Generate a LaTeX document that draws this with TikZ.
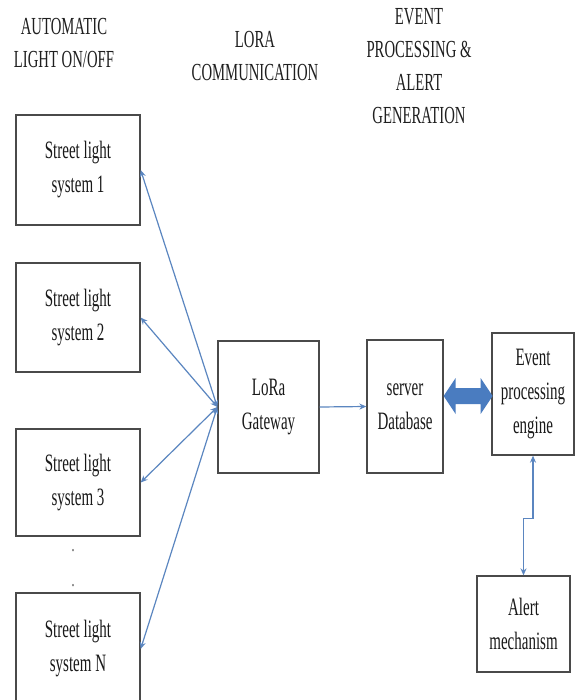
\documentclass[tikz,border=0pt]{standalone}
\usepackage{fontspec}
\setmainfont[FakeStretch=0.6]{Liberation Serif}
\usetikzlibrary{arrows.meta}
\definecolor{boxc}{HTML}{4A4A4A}
\definecolor{arrc}{HTML}{5B86C0}
\definecolor{fatc}{HTML}{4A7CC0}
\begin{document}
\begin{tikzpicture}[x=1pt,y=-1pt,
  box/.style={draw=boxc, line width=1.3pt, inner sep=0pt, align=center,
    text=black!90, font=\fontsize{25}{34}\selectfont},
  hdr/.style={align=center, inner sep=0pt, text=black!88, font=\fontsize{24.5}{33}\selectfont},
  dotn/.style={inner sep=0pt, text=black!70, font=\fontsize{20}{20}\selectfont},
  link/.style={draw=arrc, line width=1.2pt, >={Stealth[length=7pt,width=6pt]}}]
\useasboundingbox (0,0) rectangle (577,700);
\clip (0,0) rectangle (577,700);
\fill[white] (0,0) rectangle (577,700);

% headers
\node[hdr] (h1) at (64,43) {AUTOMATIC\\LIGHT ON/OFF};
\node[hdr] (h2) at (255,56) {LORA\\COMMUNICATION};
\node[hdr] (h3) at (419,66) {EVENT\\PROCESSING \&\\ALERT\\GENERATION};

% street light boxes
\node[box, minimum width=124pt, minimum height=110pt] (s1) at (78,170) {Street light\\system 1};
\node[box, minimum width=124pt, minimum height=109pt] (s2) at (78,317.5) {Street light\\system 2};
\node[box, minimum width=124pt, minimum height=107pt] (s3) at (78,482.5) {Street light\\system 3};
\node[box, minimum width=124pt, minimum height=112pt] (sn) at (78,649) {Street light\\system N};
\node[dotn] (d1) at (73,551) {.};
\node[dotn] (d2) at (73,586) {.};

% middle and right boxes
\node[box, minimum width=101pt, minimum height=132pt] (gw) at (268.5,407) {LoRa\\Gateway};
\node[box, minimum width=76pt, minimum height=133pt] (sv) at (405,406.5) {server\\Database};
\node[box, minimum width=82pt, minimum height=122pt] (ev) at (533,394) {Event\\processing\\engine};
\node[box, minimum width=93pt, minimum height=96pt] (al) at (523.5,624) {Alert\\mechanism};

% connectors
\draw[link,<->] (gw.west) -- (s1.east);
\draw[link,<->] (gw.west) -- (s2.east);
\draw[link,<->] (gw.west) -- (s3.east);
\draw[link,<->] (gw.west) -- (sn.east);
\draw[link,->] (gw.east) -- (sv.west);
\draw[link,<->] (ev.south) -- ++(0,63) -| (al.north);

% thick double arrow
\fill[fatc] ([yshift=10.5pt]sv.east) coordinate (ta) -- ++(12,-18) -- ++(0,10) -- ++(25,0)
  -- ++(0,-10) -- ++(12,18) -- ++(-12,18) -- ++(0,-10) -- ++(-25,0) -- ++(0,10) -- cycle;
\end{tikzpicture}
\end{document}
